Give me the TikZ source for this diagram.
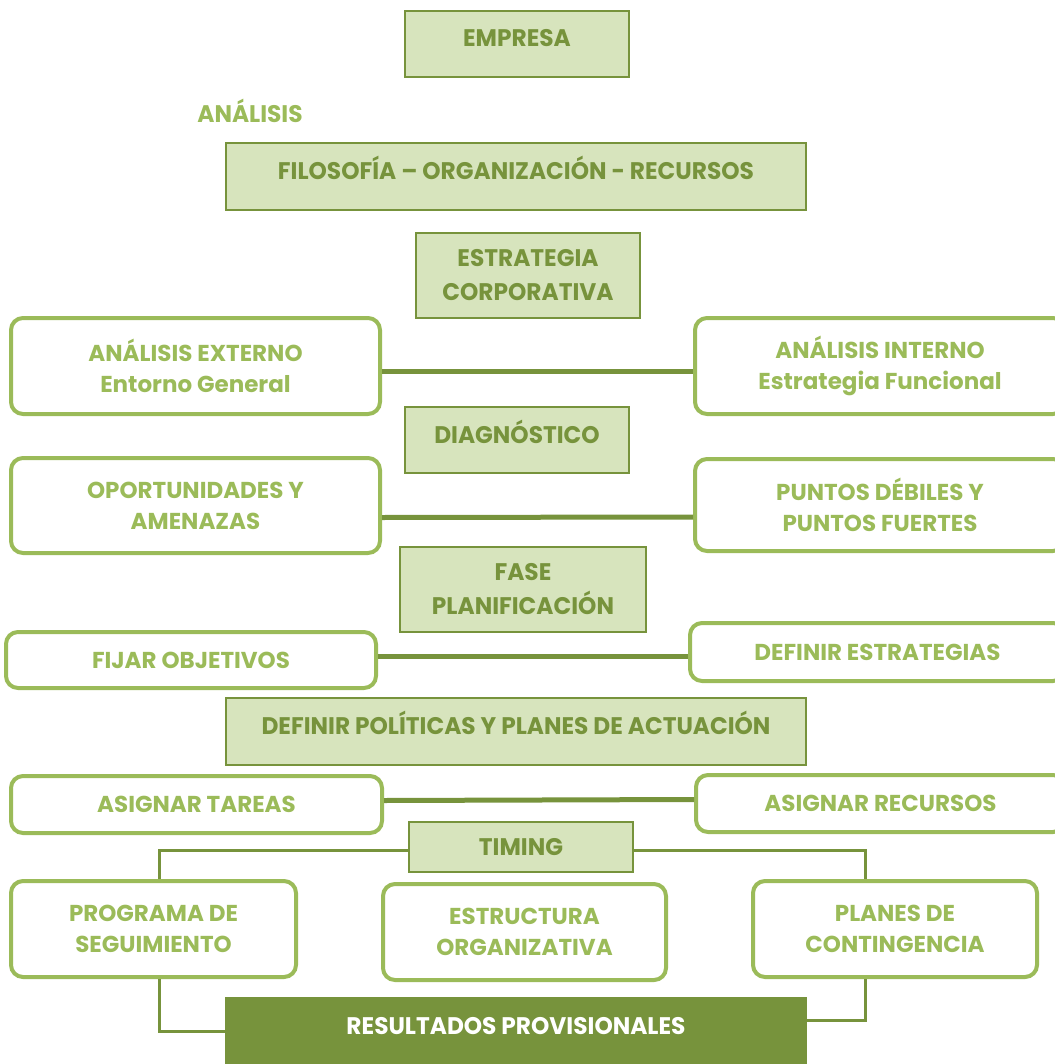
\documentclass[tikz,border=0pt]{standalone}
\usepackage{fontspec}
\setmainfont{Poppins}
\newfontfamily\narrowfont{Poppins}[FakeStretch=0.97]
\definecolor{lightgr}{HTML}{D7E4BD}
\definecolor{midgr}{HTML}{9BBB59}
\definecolor{darkgr}{HTML}{77933C}

\begin{document}
\begin{tikzpicture}[x=0.5pt,y=-0.5pt,
    fbox/.style={rectangle,fill=lightgr,draw=darkgr,line width=1pt,text=darkgr,font=\narrowfont\bfseries\fontsize{12}{17}\selectfont,align=center,inner sep=0pt},
    up/.style={text height=9pt,text depth=6pt},
    rbox/.style={rectangle,rounded corners=6pt,fill=white,draw=midgr,line width=2pt,text=midgr,font=\bfseries\fontsize{11.5}{15.5}\selectfont,align=center,inner sep=0pt},
    link/.style={draw=darkgr,line width=2.5pt},
    tline/.style={draw=darkgr,line width=1.5pt}]
	\useasboundingbox (0,0) rectangle (1054,1064);
		
		\node(1) at (517,44)[fbox,up,minimum width=112pt,minimum height=33pt]{EMPRESA};
		\node(2) at (250,111)[text=midgr,font=\narrowfont\bfseries\fontsize{12}{17}\selectfont]{ANÁLISIS};
		\node(3) at (516,176.5)[fbox,up,minimum width=290pt,minimum height=33.5pt]{FILOSOFÍA – ORGANIZACIÓN - RECURSOS};
		\node(4) at (528,275.5)[fbox,minimum width=112pt,minimum height=42.5pt]{ESTRATEGIA\\CORPORATIVA};
		\node(5) at (195.5,366)[rbox,minimum width=184.5pt,minimum height=48pt]{ANÁLISIS EXTERNO\\Entorno General};
		\node(6) at (880,366)[rbox,minimum width=185pt,minimum height=48pt]{ANÁLISIS INTERNO\\Estrategia Funcional};
		\node(7) at (517,440)[fbox,up,minimum width=112pt,minimum height=33pt]{DIAGNÓSTICO};
		\node(8) at (195.5,505.5)[rbox,minimum width=184.5pt,minimum height=47.5pt]{OPORTUNIDADES Y\\AMENAZAS};
		\node(9) at (880,505)[rbox,minimum width=185pt,minimum height=46pt]{PUNTOS DÉBILES Y\\PUNTOS FUERTES};
		\node(10) at (523,589.5)[fbox,minimum width=123pt,minimum height=42.5pt]{FASE\\PLANIFICACIÓN};
		\node(11) at (191,660)[rbox,minimum width=185pt,minimum height=28pt]{FIJAR OBJETIVOS};
		\node(12) at (877.5,652)[rbox,minimum width=187.5pt,minimum height=29pt]{DEFINIR ESTRATEGIAS};
		\node(13) at (516,731.5)[fbox,up,minimum width=290pt,minimum height=33.5pt]{DEFINIR POLÍTICAS Y PLANES DE ACTUACIÓN};
		\node(14) at (196.5,804.5)[rbox,minimum width=185.5pt,minimum height=28.5pt]{ASIGNAR TAREAS};
		\node(15) at (880.5,803.5)[rbox,minimum width=184.5pt,minimum height=28.5pt]{ASIGNAR RECURSOS};
		\node(16) at (521,847)[fbox,minimum width=112pt,minimum height=25pt]{TIMING};
		\node(17) at (153.5,929)[rbox,minimum width=142.5pt,minimum height=48pt]{PROGRAMA DE\\SEGUIMIENTO};
		\node(18) at (524.5,932)[rbox,minimum width=141.5pt,minimum height=48pt]{ESTRUCTURA\\ORGANIZATIVA};
		\node(19) at (895,929)[rbox,minimum width=142pt,minimum height=48pt]{PLANES DE\\CONTINGENCIA};
		\node(20) at (516,1031)[fbox,up,fill=darkgr,text=white,minimum width=290pt,minimum height=33pt]{RESULTADOS PROVISIONALES};
		\draw[link] ([yshift=-2.5pt]5.east) -- ([yshift=-2.5pt]6.west);
		\draw[link] ([yshift=-6pt]8.east) -- ([yshift=-6pt]9.west);
		\draw[link] ([yshift=2pt]11.east) -- ([yshift=-2pt]12.west);
		\draw[link] ([yshift=2pt]14.east) -- ([yshift=2pt]15.west);
		\draw[tline] ([yshift=-1.5pt]16.west) -| ([xshift=3pt]17.north);
		\draw[tline] ([yshift=-1.5pt]16.east) -| ([xshift=-15pt]19.north);
		\draw[tline] ([xshift=3pt]17.south) |- (20.west);
		\draw[tline] ([xshift=-15pt]19.south) |- ([yshift=5.5pt]20.east);
		
	\end{tikzpicture}
\end{document}
